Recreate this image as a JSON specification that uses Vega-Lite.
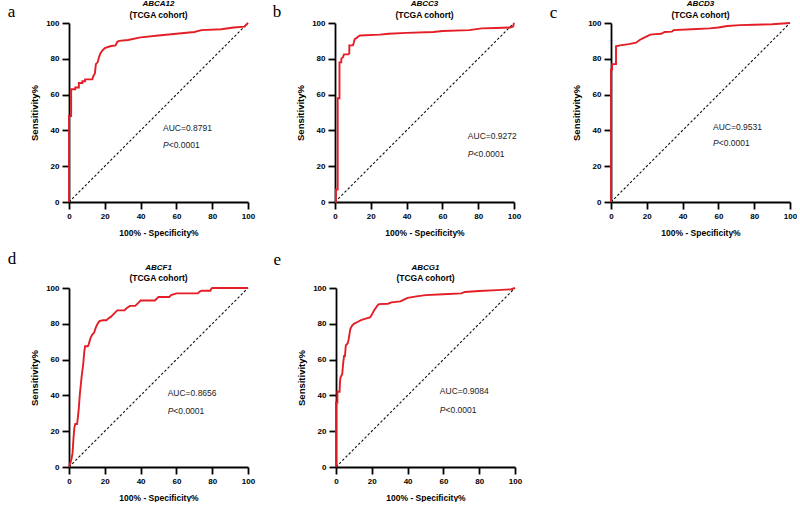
{
  "$schema": "https://vega.github.io/schema/vega-lite/v6.json",
  "padding": {"left": 7, "top": 0, "right": 0, "bottom": 0},
  "background": "white",
  "datasets": {
    "diag": [{"x": 0, "y": 0}, {"x": 100, "y": 100}],
    "rocA": [
      {"x":0,"y":0},{"x":0,"y":48},{"x":1.2,"y":48},{"x":1.2,"y":63},{"x":3.5,"y":63},{"x":3.5,"y":64},{"x":5.5,"y":64},{"x":5.5,"y":66.5},{"x":7.5,"y":66.5},{"x":7.5,"y":67.5},{"x":9,"y":67.5},{"x":9,"y":68.5},{"x":13,"y":68.5},{"x":13.5,"y":70},{"x":14.5,"y":72},{"x":15,"y":77},{"x":16,"y":78},{"x":16.5,"y":80},{"x":17.5,"y":83},{"x":18.5,"y":84.5},{"x":20,"y":86},{"x":23,"y":87},{"x":26,"y":87.5},{"x":27,"y":89.5},{"x":28,"y":90},{"x":33,"y":90.5},{"x":40,"y":92},{"x":50,"y":93},{"x":60,"y":94},{"x":70,"y":95},{"x":74,"y":96},{"x":85,"y":96.5},{"x":92,"y":97.5},{"x":98,"y":98},{"x":99,"y":99},{"x":100,"y":100}
    ],
    "rocB": [
      {"x":0,"y":0},{"x":0.5,"y":0},{"x":0.5,"y":7},{"x":1.5,"y":7},{"x":1.5,"y":58},{"x":2.5,"y":58},{"x":2.5,"y":78},{"x":3.5,"y":78},{"x":3.5,"y":80},{"x":4.5,"y":81},{"x":5,"y":82.5},{"x":7.5,"y":82.5},{"x":8,"y":83},{"x":8,"y":87.5},{"x":10,"y":87.5},{"x":10.5,"y":89},{"x":11,"y":91},{"x":12,"y":91.5},{"x":13,"y":92.5},{"x":14,"y":93},{"x":25,"y":93.5},{"x":30,"y":94},{"x":40,"y":94.5},{"x":55,"y":95},{"x":60,"y":95.5},{"x":75,"y":96},{"x":82,"y":97},{"x":90,"y":97.2},{"x":98,"y":97.5},{"x":99.5,"y":98},{"x":100,"y":100}
    ],
    "rocC": [
      {"x":0,"y":0},{"x":0,"y":74},{"x":0.6,"y":74},{"x":0.6,"y":77},{"x":2.8,"y":77},{"x":2.8,"y":87},{"x":5,"y":87.5},{"x":10,"y":88.2},{"x":14,"y":89},{"x":16,"y":90.5},{"x":18,"y":91.5},{"x":20,"y":92.5},{"x":22,"y":93.5},{"x":25,"y":93.8},{"x":28,"y":94},{"x":30,"y":95},{"x":34,"y":95.2},{"x":35,"y":96},{"x":45,"y":96.5},{"x":55,"y":97},{"x":60,"y":97.5},{"x":65,"y":98.3},{"x":72,"y":98.8},{"x":80,"y":99},{"x":90,"y":99.3},{"x":100,"y":100}
    ],
    "rocD": [
      {"x":0,"y":0},{"x":1,"y":3},{"x":1.5,"y":5},{"x":2,"y":8},{"x":2.5,"y":16},{"x":3,"y":22},{"x":3.5,"y":24},{"x":4.5,"y":24},{"x":5,"y":28},{"x":5.5,"y":33},{"x":6,"y":40},{"x":7,"y":50},{"x":8,"y":58},{"x":8.5,"y":64},{"x":9,"y":67.5},{"x":10.5,"y":67.5},{"x":11,"y":68.5},{"x":12,"y":72},{"x":13,"y":74},{"x":14,"y":75},{"x":15,"y":78},{"x":16,"y":80},{"x":17,"y":81.5},{"x":19,"y":82},{"x":21,"y":82},{"x":22,"y":83},{"x":23.5,"y":84},{"x":24.5,"y":85},{"x":26,"y":86.5},{"x":27,"y":87.5},{"x":31,"y":87.5},{"x":32,"y":88.5},{"x":34,"y":90},{"x":37,"y":90},{"x":38,"y":91},{"x":39,"y":92},{"x":40,"y":93},{"x":48,"y":93},{"x":49,"y":94},{"x":50,"y":95},{"x":56,"y":95},{"x":57,"y":96},{"x":60,"y":97},{"x":72,"y":97},{"x":73,"y":98},{"x":74,"y":98.5},{"x":79,"y":98.5},{"x":79.5,"y":99.5},{"x":80,"y":100},{"x":100,"y":100}
    ],
    "rocE": [
      {"x":0,"y":0},{"x":0,"y":36},{"x":0.8,"y":36},{"x":0.8,"y":42},{"x":2,"y":42},{"x":2.2,"y":47},{"x":2.5,"y":50},{"x":3.5,"y":52},{"x":4,"y":58},{"x":4.5,"y":62},{"x":5,"y":62},{"x":5.5,"y":68},{"x":6.5,"y":69},{"x":7,"y":71},{"x":8,"y":77},{"x":9,"y":79},{"x":10,"y":80},{"x":12,"y":81},{"x":14,"y":82},{"x":17,"y":83},{"x":19,"y":83.5},{"x":20,"y":85},{"x":21,"y":87},{"x":22,"y":88.5},{"x":23,"y":90},{"x":24,"y":91},{"x":29,"y":91.2},{"x":31,"y":92},{"x":36,"y":92.5},{"x":38,"y":93.5},{"x":40,"y":94.5},{"x":45,"y":95.3},{"x":50,"y":96},{"x":60,"y":96.5},{"x":70,"y":97},{"x":72,"y":97.8},{"x":80,"y":98.3},{"x":90,"y":98.8},{"x":98,"y":99.3},{"x":100,"y":100}
    ]
  },
  "vconcat": [
    {
      "spacing": 13,
      "hconcat": [
        {
          "width": 179, "height": 179,
          "layer": [
            {"data": {"name": "diag"}, "mark": {"type": "line", "color": "#111", "strokeWidth": 1.1, "strokeDash": [2.5, 2]},
             "encoding": {"x": {"field": "x", "type": "quantitative", "scale": {"domain": [0, 100], "nice": false}, "title": "100% - Specificity%"},
                          "y": {"field": "y", "type": "quantitative", "scale": {"domain": [0, 100], "nice": false}, "title": "Sensitivity%"}}},
            {"data": {"name": "rocA"}, "mark": {"type": "line", "color": "#e41e26", "strokeWidth": 1.9},
             "encoding": {"x": {"field": "x", "type": "quantitative"}, "y": {"field": "y", "type": "quantitative"}, "order": {"value": null}}},
            {"data": {"values": [{"gene": "ABCA12", "cohort": "(TCGA cohort)", "auc": "AUC=0.8791", "p": "P", "pv": "<0.0001", "letter": "a", "next": "b"}]},
             "layer": [
               {"mark": {"type": "text", "align": "center", "baseline": "middle", "fontSize": 8, "fontWeight": "bold", "fontStyle": "italic", "color": "black"},
                "encoding": {"x": {"datum": 50, "type": "quantitative"}, "y": {"datum": 110.5, "type": "quantitative"}, "text": {"field": "gene"}}},
               {"mark": {"type": "text", "align": "center", "baseline": "middle", "fontSize": 8.5, "fontWeight": "bold", "color": "black"},
                "encoding": {"x": {"datum": 50, "type": "quantitative"}, "y": {"datum": 104.7, "type": "quantitative"}, "text": {"field": "cohort"}}},
               {"mark": {"type": "text", "align": "left", "baseline": "middle", "fontSize": 8.5, "color": "#222"},
                "encoding": {"x": {"datum": 52.5, "type": "quantitative"}, "y": {"datum": 41.3, "type": "quantitative"}, "text": {"field": "auc"}}},
               {"mark": {"type": "text", "align": "left", "baseline": "middle", "fontSize": 8.5, "fontStyle": "italic", "color": "#222"},
                "encoding": {"x": {"datum": 52.5, "type": "quantitative"}, "y": {"datum": 31.8, "type": "quantitative"}, "text": {"field": "p"}}},
               {"mark": {"type": "text", "align": "left", "baseline": "middle", "fontSize": 8.5, "dx": 5.7, "color": "#222"},
                "encoding": {"x": {"datum": 52.5, "type": "quantitative"}, "y": {"datum": 31.8, "type": "quantitative"}, "text": {"field": "pv"}}},
               {"mark": {"type": "text", "align": "left", "baseline": "alphabetic", "font": "Liberation Serif", "fontSize": 17, "color": "black"},
                "encoding": {"x": {"datum": -34.2, "type": "quantitative"}, "y": {"datum": 103.3, "type": "quantitative"}, "text": {"field": "letter"}}},
               {"mark": {"type": "text", "align": "left", "baseline": "alphabetic", "font": "Liberation Serif", "fontSize": 17, "color": "black"},
                "encoding": {"x": {"datum": 113.8, "type": "quantitative"}, "y": {"datum": 103.3, "type": "quantitative"}, "text": {"field": "next"}}}
             ]}
          ]
        },
        {
          "width": 179, "height": 179,
          "layer": [
            {"data": {"name": "diag"}, "mark": {"type": "line", "color": "#111", "strokeWidth": 1.1, "strokeDash": [2.5, 2]},
             "encoding": {"x": {"field": "x", "type": "quantitative", "scale": {"domain": [0, 100], "nice": false}, "title": "100% - Specificity%"},
                          "y": {"field": "y", "type": "quantitative", "scale": {"domain": [0, 100], "nice": false}, "title": "Sensitivity%"}}},
            {"data": {"name": "rocB"}, "mark": {"type": "line", "color": "#e41e26", "strokeWidth": 1.9},
             "encoding": {"x": {"field": "x", "type": "quantitative"}, "y": {"field": "y", "type": "quantitative"}, "order": {"value": null}}},
            {"data": {"values": [{"gene": "ABCC3", "cohort": "(TCGA cohort)", "auc": "AUC=0.9272", "p": "P", "pv": "<0.0001", "next": "c "}]},
             "layer": [
               {"mark": {"type": "text", "align": "center", "baseline": "middle", "fontSize": 8, "fontWeight": "bold", "fontStyle": "italic", "color": "black"},
                "encoding": {"x": {"datum": 50, "type": "quantitative"}, "y": {"datum": 110.5, "type": "quantitative"}, "text": {"field": "gene"}}},
               {"mark": {"type": "text", "align": "center", "baseline": "middle", "fontSize": 8.5, "fontWeight": "bold", "color": "black"},
                "encoding": {"x": {"datum": 50, "type": "quantitative"}, "y": {"datum": 104.7, "type": "quantitative"}, "text": {"field": "cohort"}}},
               {"mark": {"type": "text", "align": "left", "baseline": "middle", "fontSize": 8.5, "color": "#222"},
                "encoding": {"x": {"datum": 74.2, "type": "quantitative"}, "y": {"datum": 37.1, "type": "quantitative"}, "text": {"field": "auc"}}},
               {"mark": {"type": "text", "align": "left", "baseline": "middle", "fontSize": 8.5, "fontStyle": "italic", "color": "#222"},
                "encoding": {"x": {"datum": 74.2, "type": "quantitative"}, "y": {"datum": 26.6, "type": "quantitative"}, "text": {"field": "p"}}},
               {"mark": {"type": "text", "align": "left", "baseline": "middle", "fontSize": 8.5, "dx": 5.7, "color": "#222"},
                "encoding": {"x": {"datum": 74.2, "type": "quantitative"}, "y": {"datum": 26.6, "type": "quantitative"}, "text": {"field": "pv"}}},
               {"mark": {"type": "text", "align": "left", "baseline": "alphabetic", "font": "Liberation Serif", "fontSize": 17, "color": "black"},
                "encoding": {"x": {"datum": 120, "type": "quantitative"}, "y": {"datum": 102.8, "type": "quantitative"}, "text": {"field": "next"}}}
             ]}
          ]
        },
        {
          "width": 179, "height": 179,
          "layer": [
            {"data": {"name": "diag"}, "mark": {"type": "line", "color": "#111", "strokeWidth": 1.1, "strokeDash": [2.5, 2]},
             "encoding": {"x": {"field": "x", "type": "quantitative", "scale": {"domain": [0, 100], "nice": false}, "title": "100% - Specificity%"},
                          "y": {"field": "y", "type": "quantitative", "scale": {"domain": [0, 100], "nice": false}, "title": "Sensitivity%"}}},
            {"data": {"name": "rocC"}, "mark": {"type": "line", "color": "#e41e26", "strokeWidth": 1.9},
             "encoding": {"x": {"field": "x", "type": "quantitative"}, "y": {"field": "y", "type": "quantitative"}, "order": {"value": null}}},
            {"data": {"values": [{"gene": "ABCD3", "cohort": "(TCGA cohort)", "auc": "AUC=0.9531", "p": "P", "pv": "<0.0001"}]},
             "layer": [
               {"mark": {"type": "text", "align": "center", "baseline": "middle", "fontSize": 8, "fontWeight": "bold", "fontStyle": "italic", "color": "black"},
                "encoding": {"x": {"datum": 50, "type": "quantitative"}, "y": {"datum": 110.5, "type": "quantitative"}, "text": {"field": "gene"}}},
               {"mark": {"type": "text", "align": "center", "baseline": "middle", "fontSize": 8.5, "fontWeight": "bold", "color": "black"},
                "encoding": {"x": {"datum": 50, "type": "quantitative"}, "y": {"datum": 104.7, "type": "quantitative"}, "text": {"field": "cohort"}}},
               {"mark": {"type": "text", "align": "left", "baseline": "middle", "fontSize": 8.5, "color": "#222"},
                "encoding": {"x": {"datum": 57, "type": "quantitative"}, "y": {"datum": 42, "type": "quantitative"}, "text": {"field": "auc"}}},
               {"mark": {"type": "text", "align": "left", "baseline": "middle", "fontSize": 8.5, "fontStyle": "italic", "color": "#222"},
                "encoding": {"x": {"datum": 57, "type": "quantitative"}, "y": {"datum": 33, "type": "quantitative"}, "text": {"field": "p"}}},
               {"mark": {"type": "text", "align": "left", "baseline": "middle", "fontSize": 8.5, "dx": 5.7, "color": "#222"},
                "encoding": {"x": {"datum": 57, "type": "quantitative"}, "y": {"datum": 33, "type": "quantitative"}, "text": {"field": "pv"}}}
             ]}
          ]
        }
      ]
    },
    {
      "spacing": 14,
      "hconcat": [
        {
          "width": 179, "height": 179,
          "layer": [
            {"data": {"name": "diag"}, "mark": {"type": "line", "color": "#111", "strokeWidth": 1.1, "strokeDash": [2.5, 2]},
             "encoding": {"x": {"field": "x", "type": "quantitative", "scale": {"domain": [0, 100], "nice": false}, "title": "100% - Specificity%"},
                          "y": {"field": "y", "type": "quantitative", "scale": {"domain": [0, 100], "nice": false}, "title": "Sensitivity%"}}},
            {"data": {"name": "rocD"}, "mark": {"type": "line", "color": "#e41e26", "strokeWidth": 1.9},
             "encoding": {"x": {"field": "x", "type": "quantitative"}, "y": {"field": "y", "type": "quantitative"}, "order": {"value": null}}},
            {"data": {"values": [{"gene": "ABCF1", "cohort": "(TCGA cohort)", "auc": "AUC=0.8656", "p": "P", "pv": "<0.0001", "letter": "d", "next": "e"}]},
             "layer": [
               {"mark": {"type": "text", "align": "center", "baseline": "middle", "fontSize": 8, "fontWeight": "bold", "fontStyle": "italic", "color": "black"},
                "encoding": {"x": {"datum": 50, "type": "quantitative"}, "y": {"datum": 111.2, "type": "quantitative"}, "text": {"field": "gene"}}},
               {"mark": {"type": "text", "align": "center", "baseline": "middle", "fontSize": 8.5, "fontWeight": "bold", "color": "black"},
                "encoding": {"x": {"datum": 50, "type": "quantitative"}, "y": {"datum": 105.6, "type": "quantitative"}, "text": {"field": "cohort"}}},
               {"mark": {"type": "text", "align": "left", "baseline": "middle", "fontSize": 8.5, "color": "#222"},
                "encoding": {"x": {"datum": 55.1, "type": "quantitative"}, "y": {"datum": 41.3, "type": "quantitative"}, "text": {"field": "auc"}}},
               {"mark": {"type": "text", "align": "left", "baseline": "middle", "fontSize": 8.5, "fontStyle": "italic", "color": "#222"},
                "encoding": {"x": {"datum": 55.1, "type": "quantitative"}, "y": {"datum": 31.5, "type": "quantitative"}, "text": {"field": "p"}}},
               {"mark": {"type": "text", "align": "left", "baseline": "middle", "fontSize": 8.5, "dx": 5.7, "color": "#222"},
                "encoding": {"x": {"datum": 55.1, "type": "quantitative"}, "y": {"datum": 31.5, "type": "quantitative"}, "text": {"field": "pv"}}},
               {"mark": {"type": "text", "align": "left", "baseline": "alphabetic", "font": "Liberation Serif", "fontSize": 17, "color": "black"},
                "encoding": {"x": {"datum": -34.2, "type": "quantitative"}, "y": {"datum": 113.2, "type": "quantitative"}, "text": {"field": "letter"}}},
               {"mark": {"type": "text", "align": "left", "baseline": "alphabetic", "font": "Liberation Serif", "fontSize": 17, "color": "black"},
                "encoding": {"x": {"datum": 114.3, "type": "quantitative"}, "y": {"datum": 113, "type": "quantitative"}, "text": {"field": "next"}}}
             ]}
          ]
        },
        {
          "width": 179, "height": 179,
          "layer": [
            {"data": {"name": "diag"}, "mark": {"type": "line", "color": "#111", "strokeWidth": 1.1, "strokeDash": [2.5, 2]},
             "encoding": {"x": {"field": "x", "type": "quantitative", "scale": {"domain": [0, 100], "nice": false}, "title": "100% - Specificity%"},
                          "y": {"field": "y", "type": "quantitative", "scale": {"domain": [0, 100], "nice": false}, "title": "Sensitivity%"}}},
            {"data": {"name": "rocE"}, "mark": {"type": "line", "color": "#e41e26", "strokeWidth": 1.9},
             "encoding": {"x": {"field": "x", "type": "quantitative"}, "y": {"field": "y", "type": "quantitative"}, "order": {"value": null}}},
            {"data": {"values": [{"gene": "ABCG1", "cohort": "(TCGA cohort)", "auc": "AUC=0.9084", "p": "P", "pv": "<0.0001"}]},
             "layer": [
               {"mark": {"type": "text", "align": "center", "baseline": "middle", "fontSize": 8, "fontWeight": "bold", "fontStyle": "italic", "color": "black"},
                "encoding": {"x": {"datum": 50, "type": "quantitative"}, "y": {"datum": 111.2, "type": "quantitative"}, "text": {"field": "gene"}}},
               {"mark": {"type": "text", "align": "center", "baseline": "middle", "fontSize": 8.5, "fontWeight": "bold", "color": "black"},
                "encoding": {"x": {"datum": 50, "type": "quantitative"}, "y": {"datum": 105.6, "type": "quantitative"}, "text": {"field": "cohort"}}},
               {"mark": {"type": "text", "align": "left", "baseline": "middle", "fontSize": 8.5, "color": "#222"},
                "encoding": {"x": {"datum": 58, "type": "quantitative"}, "y": {"datum": 42.2, "type": "quantitative"}, "text": {"field": "auc"}}},
               {"mark": {"type": "text", "align": "left", "baseline": "middle", "fontSize": 8.5, "fontStyle": "italic", "color": "#222"},
                "encoding": {"x": {"datum": 58, "type": "quantitative"}, "y": {"datum": 32, "type": "quantitative"}, "text": {"field": "p"}}},
               {"mark": {"type": "text", "align": "left", "baseline": "middle", "fontSize": 8.5, "dx": 5.7, "color": "#222"},
                "encoding": {"x": {"datum": 58, "type": "quantitative"}, "y": {"datum": 32, "type": "quantitative"}, "text": {"field": "pv"}}}
             ]}
          ]
        }
      ]
    }
  ],
  "spacing": 13,
  "config": {
    "font": "Liberation Sans",
    "view": {"stroke": null},
    "axis": {"domainColor": "black", "domainWidth": 1.8, "tickColor": "black", "tickWidth": 1.8, "tickSize": 7, "grid": false,
             "labelFont": "Liberation Sans", "labelFontWeight": "bold", "labelFontSize": 8, "labelColor": "black", "labelPadding": 3, "labelFlush": false,
             "titleFont": "Liberation Sans", "titleFontWeight": "bold", "titleColor": "black", "values": [0, 20, 40, 60, 80, 100]},
    "axisX": {"titleFontSize": 8.5, "titlePadding": 8},
    "axisY": {"titleFontSize": 9.5, "titlePadding": 6}
  }
}
